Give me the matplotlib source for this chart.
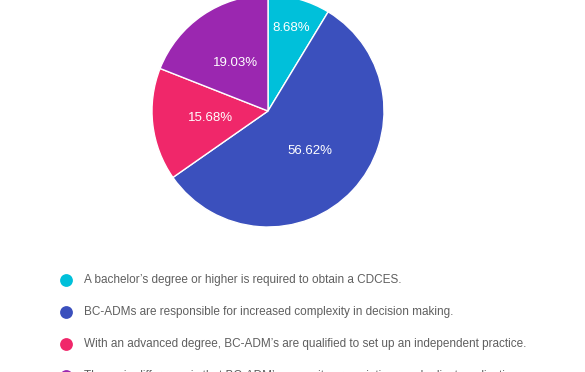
import numpy as np
import matplotlib
matplotlib.use("Agg")
import matplotlib.pyplot as plt

labels = [
    "A bachelor\u2019s degree or higher is required to obtain a CDCES.",
    "BC-ADMs are responsible for increased complexity in decision making.",
    "With an advanced degree, BC-ADM\u2019s are qualified to set up an independent practice.",
    "The main difference is that BC-ADM\u2019s can write prescriptions and adjust medications.",
]
values = [8.68, 56.62, 15.68, 19.03]
colors = ["#00c0da", "#3b50bd", "#f0276a", "#9b27b0"]
label_radius = [0.74, 0.5, 0.5, 0.5]

W, H = 585, 372
DPI = 100
fig = plt.figure(figsize=(W / DPI, H / DPI), dpi=DPI)
plt.rcParams['font.family'] = ['Liberation Sans', 'DejaVu Sans']

cx, cy, R = 268, 111, 116
ax = fig.add_axes([(cx - R) / W, (H - cy - R) / H, 2 * R / W, 2 * R / H])
wedges, _ = ax.pie(values, colors=colors, startangle=90, counterclock=False,
                   radius=1.0, wedgeprops=dict(edgecolor="white", linewidth=1.0))
ax.set_xlim(-1, 1)
ax.set_ylim(-1, 1)
ax.set_aspect("equal")
ax.axis("off")

total = sum(values)
cum = 0.0
for v, r in zip(values, label_radius):
    mid = np.deg2rad(90 - (cum + v / 2) / total * 360)
    cum += v
    ax.text(r * np.cos(mid), r * np.sin(mid), f"{v:.2f}%", color="white",
            fontsize=9.5, ha="center", va="center")

# Legend
lx = 66
top = 264
row = 32
n = len(labels)
lax = fig.add_axes([lx / W, (H - top - row * n) / H, (W - lx) / W, row * n / H])
lax.set_xlim(0, W - lx)
lax.set_ylim(n - 0.5, -0.5)
lax.axis("off")
for i, (lab, c) in enumerate(zip(labels, colors)):
    lax.scatter([0], [i], s=85, color=c, clip_on=False, linewidths=0)
    lax.text(18, i, lab, color="#5f5f5f", fontsize=8.45, ha="left", va="center")

fig.savefig("out.png", dpi=DPI)
